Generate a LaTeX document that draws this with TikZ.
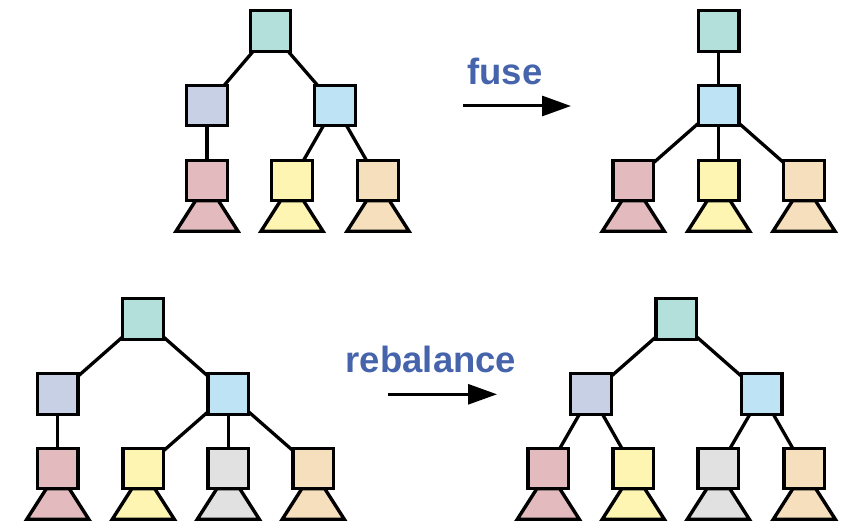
\documentclass[tikz,border=0pt]{standalone}
\usepackage{fontspec}
\setmainfont{Liberation Sans}
\usetikzlibrary{arrows.meta}
\definecolor{cteal}{RGB}{179,224,218}
\definecolor{clav}{RGB}{200,208,230}
\definecolor{cblue}{RGB}{189,227,244}
\definecolor{cpink}{RGB}{227,187,190}
\definecolor{cyel}{RGB}{255,245,179}
\definecolor{cpeach}{RGB}{246,223,188}
\definecolor{cgray}{RGB}{225,225,225}
\definecolor{ctext}{RGB}{70,100,172}
\tikzset{
  box/.style={draw=black, line width=3.4pt, minimum size=40.5pt, inner sep=0pt, outer sep=0pt},
  edge/.style={draw=black, line width=3.3pt},
  trap/.style={draw=black, line width=3.4pt, line join=miter},
  bigarrow/.style={draw=black, line width=3pt, -{Triangle[length=29pt,width=20pt]}},
  lbl/.style={text=ctext, font=\bfseries\fontsize{36.5}{36.5}\selectfont, anchor=base, inner sep=0pt}
}
\newcommand{\trapof}[2]{%
  \draw[trap, fill=#2] ([xshift=-11.5pt]#1.south) -- ([xshift=11.5pt]#1.south) -- ++(19.5,30.5) -- ++(-62,0) -- cycle;}
\begin{document}
\begin{tikzpicture}[x=1pt,y=-1pt]
\useasboundingbox (0,0) rectangle (853,521);
% ---- top left tree
\node[box, fill=cteal] (a0) at (270.5,31) {};
\node[box, fill=clav] (a1) at (207,105.5) {};
\node[box, fill=cblue] (a2) at (335,105.5) {};
\node[box, fill=cpink] (a3) at (207,180.5) {};
\node[box, fill=cyel] (a4) at (292,180.5) {};
\node[box, fill=cpeach] (a5) at (378,180.5) {};
\draw[edge] (a0) -- (a1);
\draw[edge] (a0) -- (a2);
\draw[edge] (a1) -- (a3);
\draw[edge] (a2) -- (a4);
\draw[edge] (a2) -- (a5);
\trapof{a3}{cpink}
\trapof{a4}{cyel}
\trapof{a5}{cpeach}
% ---- fuse arrow
\node[lbl] (fuse) at (505,85) {fuse};
\coordinate (f1) at (463,106);
\coordinate (f2) at (571,106);
\draw[bigarrow] (f1) -- (f2);
% ---- top right tree
\node[box, fill=cteal] (b0) at (718.7,31) {};
\node[box, fill=cblue] (b1) at (718.7,105.5) {};
\node[box, fill=cpink] (b3) at (633.3,180.5) {};
\node[box, fill=cyel] (b4) at (718.7,180.5) {};
\node[box, fill=cpeach] (b5) at (804,180.5) {};
\draw[edge] (b0) -- (b1);
\draw[edge] (b1) -- (b3);
\draw[edge] (b1) -- (b4);
\draw[edge] (b1) -- (b5);
\trapof{b3}{cpink}
\trapof{b4}{cyel}
\trapof{b5}{cpeach}
% ---- bottom left tree
\node[box, fill=cteal] (c0) at (143,319) {};
\node[box, fill=clav] (c1) at (57.8,394) {};
\node[box, fill=cblue] (c2) at (228.3,394) {};
\node[box, fill=cpink] (c3) at (57.8,468.5) {};
\node[box, fill=cyel] (c4) at (143.3,468.5) {};
\node[box, fill=cgray] (c5) at (228.3,468.5) {};
\node[box, fill=cpeach] (c6) at (313.3,468.5) {};
\draw[edge] (c0) -- (c1);
\draw[edge] (c0) -- (c2);
\draw[edge] (c1) -- (c3);
\draw[edge] (c2) -- (c4);
\draw[edge] (c2) -- (c5);
\draw[edge] (c2) -- (c6);
\trapof{c3}{cpink}
\trapof{c4}{cyel}
\trapof{c5}{cgray}
\trapof{c6}{cpeach}
% ---- rebalance arrow
\node[lbl] (reb) at (431,372) {rebalance};
\coordinate (r1) at (388,394.3);
\coordinate (r2) at (497,394.3);
\draw[bigarrow] (r1) -- (r2);
% ---- bottom right tree
\node[box, fill=cteal] (d0) at (676.3,319) {};
\node[box, fill=clav] (d1) at (591,394) {};
\node[box, fill=cblue] (d2) at (761.7,394) {};
\node[box, fill=cpink] (d3) at (548.3,468.5) {};
\node[box, fill=cyel] (d4) at (633.3,468.5) {};
\node[box, fill=cgray] (d5) at (718.3,468.5) {};
\node[box, fill=cpeach] (d6) at (804.3,468.5) {};
\draw[edge] (d0) -- (d1);
\draw[edge] (d0) -- (d2);
\draw[edge] (d1) -- (d3);
\draw[edge] (d1) -- (d4);
\draw[edge] (d2) -- (d5);
\draw[edge] (d2) -- (d6);
\trapof{d3}{cpink}
\trapof{d4}{cyel}
\trapof{d5}{cgray}
\trapof{d6}{cpeach}
\end{tikzpicture}
\end{document}
